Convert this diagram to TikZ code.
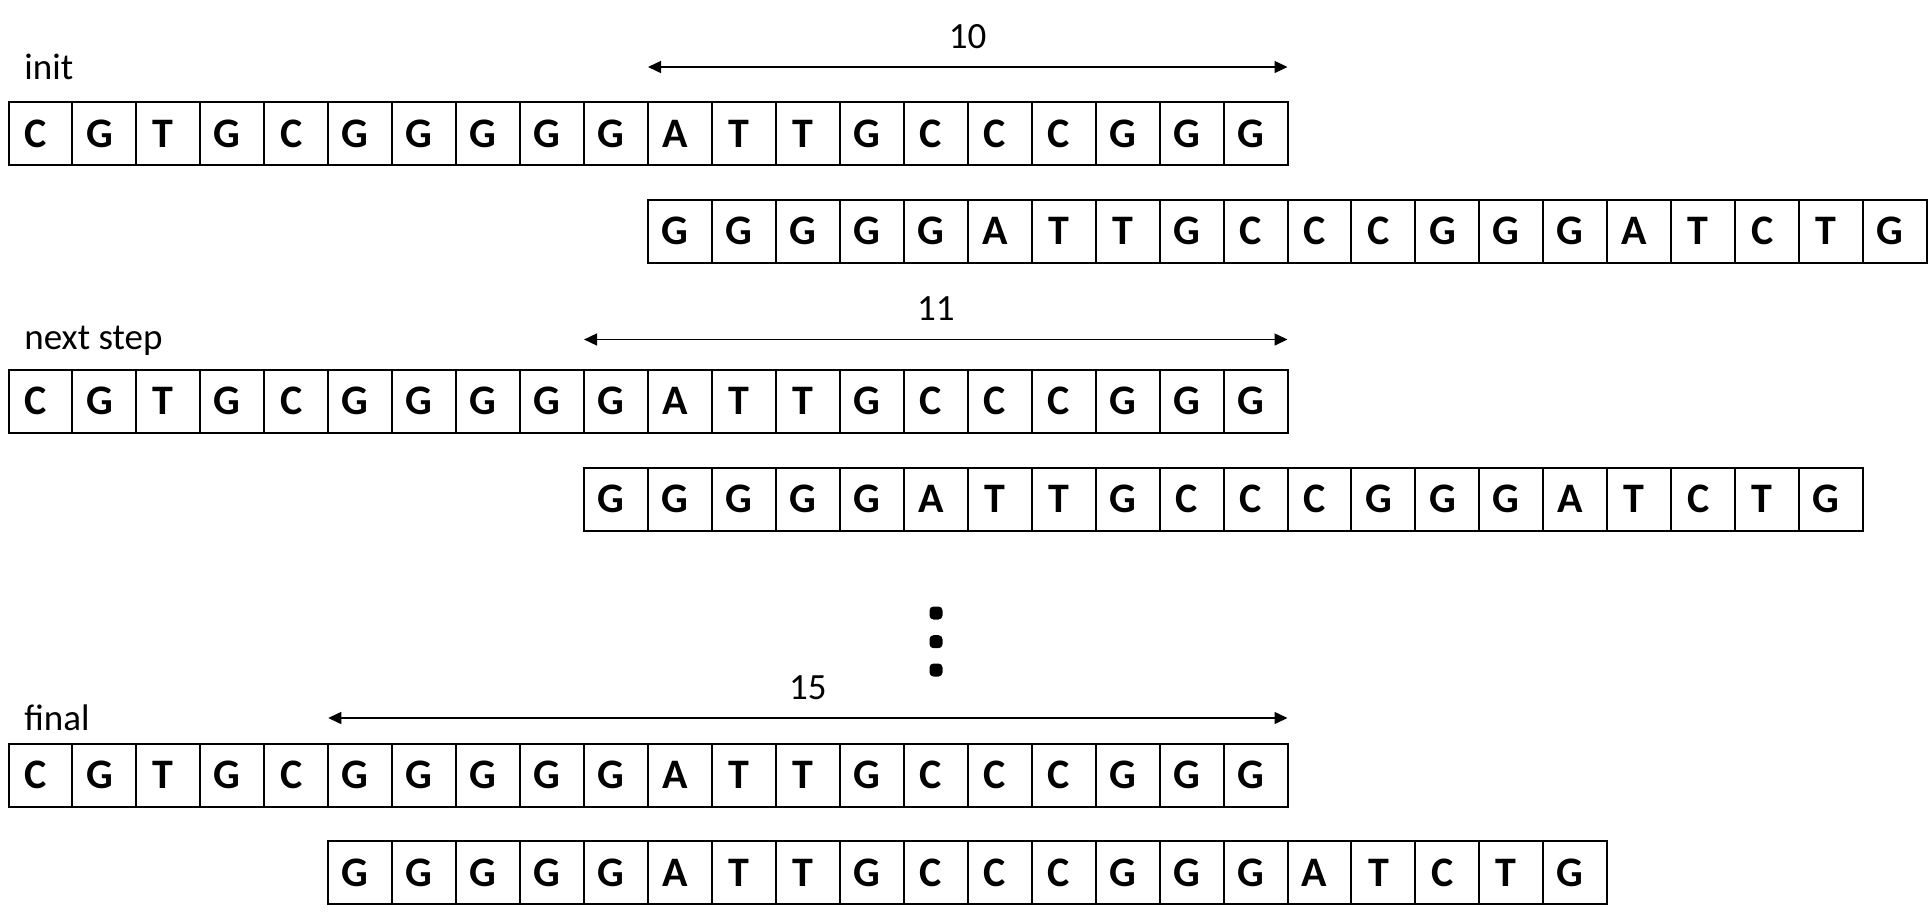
\documentclass[tikz,border=0pt]{standalone}
\usepackage{fontspec}
\setmainfont{Carlito}
\usetikzlibrary{arrows.meta}
\newcommand\dnarow[4]{%
  \foreach \c [count=\i] in {#4} {
    \node[cell] (#1\i) at ({#2+(\i-0.5)*63.95},{#3+31.5}) {\c\kern5pt};
  }}
\begin{document}
\begin{tikzpicture}[x=0.5pt,y=-0.5pt,
  cell/.style={draw=black,line width=1pt,minimum width=31.975pt,minimum height=31.5pt,inner sep=0pt,font=\fontsize{21}{23}\selectfont\bfseries},
  lbl/.style={anchor=base west,inner sep=0pt,font=\fontsize{18.5}{21}\selectfont},
  num/.style={anchor=base,inner sep=0pt,font=\fontsize{18.5}{21}\selectfont},
  dimarrow/.style={line width=0.75pt,{Triangle[length=6.5pt,width=6pt]}-{Triangle[length=6.5pt,width=6pt]}},
  bigdot/.style={fill=black,rounded corners=2pt,minimum size=6.5pt,inner sep=0pt}]
\useasboundingbox (0,0) rectangle (1929,916);

% init
\node[lbl] (linit) at (24,79) {init};
\dnarow{a}{8.5}{102}{C,G,T,G,C,G,G,G,G,G,A,T,T,G,C,C,C,G,G,G}
\dnarow{b}{648}{199.5}{G,G,G,G,G,A,T,T,G,C,C,C,G,G,G,A,T,C,T,G}
\coordinate (s1) at (648,67);
\coordinate (e1) at (1287.5,67);
\draw[dimarrow] (s1) -- (e1);
\node[num] (n1) at (967.7,48.5) {10};

% next step
\node[lbl] (lnext) at (24,349.3) {next step};
\dnarow{c}{8.5}{369.5}{C,G,T,G,C,G,G,G,G,G,A,T,T,G,C,C,C,G,G,G}
\dnarow{d}{584.05}{467.5}{G,G,G,G,G,A,T,T,G,C,C,C,G,G,G,A,T,C,T,G}
\coordinate (s2) at (584.05,339.5);
\coordinate (e2) at (1287.5,339.5);
\draw[dimarrow] (s2) -- (e2);
\node[num] (n2) at (935.8,320.5) {11};

% dots
\node[bigdot] (d1) at (936,613) {};
\node[bigdot] (d2) at (936,641.7) {};
\node[bigdot] (d3) at (936,670) {};

% final
\node[lbl] (lfinal) at (24,730.7) {final};
\dnarow{e}{8.5}{743.5}{C,G,T,G,C,G,G,G,G,G,A,T,T,G,C,C,C,G,G,G}
\dnarow{f}{328.25}{841}{G,G,G,G,G,A,T,T,G,C,C,C,G,G,G,A,T,C,T,G}
\coordinate (s3) at (328.25,718);
\coordinate (e3) at (1287.5,718);
\draw[dimarrow] (s3) -- (e3);
\node[num] (n3) at (807.9,699) {15};
\end{tikzpicture}
\end{document}
